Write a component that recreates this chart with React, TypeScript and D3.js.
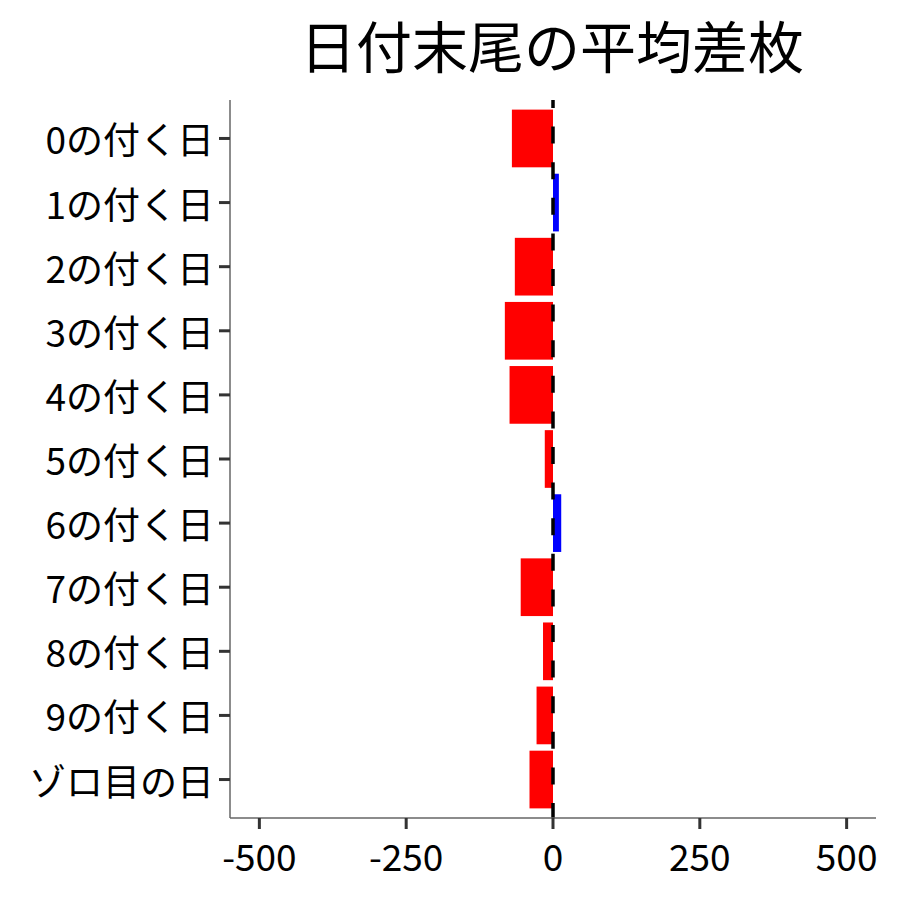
import React from 'react';
import * as d3 from 'd3';

const categories = [
  '0の付く日',
  '1の付く日',
  '2の付く日',
  '3の付く日',
  '4の付く日',
  '5の付く日',
  '6の付く日',
  '7の付く日',
  '8の付く日',
  '9の付く日',
  'ゾロ目の日',
];
const values = [-70, 10, -65, -82, -74, -14, 14, -55, -17, -28, -40];
const xTicks = [-500, -250, 0, 250, 500];
const title = '日付末尾の平均差枚';

const FONT = '"Noto Sans CJK JP", "Noto Sans", sans-serif';

export default function App() {
  const width = 900;
  const height = 900;
  const panel = { left: 230, right: 876, top: 100, bottom: 818 };

  const x = d3.scaleLinear().domain([-550, 550]).range([panel.left, panel.right]);
  const y = d3
    .scaleBand<string>()
    .domain(categories)
    .range([panel.top, panel.bottom])
    .paddingInner(0.1)
    .paddingOuter(0.15);

  const bars = categories.map((c, i) => ({ cat: c, value: values[i] }));

  return (
    <svg
      width={width}
      height={height}
      style={{ position: 'absolute', left: 0, top: 0, background: '#fff' }}
      fontFamily={FONT}
    >
      <rect width={width} height={height} fill="#fff" />

      {/* bars */}
      <g>
        {bars.map((d) => (
          <rect
            key={d.cat}
            x={Math.min(x(0), x(d.value))}
            y={y(d.cat)!}
            width={Math.abs(x(d.value) - x(0))}
            height={y.bandwidth()}
            fill={d.value < 0 ? '#FF0000' : '#0000FF'}
          />
        ))}
      </g>

      {/* zero reference line */}
      <line
        x1={x(0)}
        x2={x(0)}
        y1={panel.top}
        y2={panel.bottom}
        stroke="#000"
        strokeWidth={3.5}
        strokeDasharray="17 18.6"
        strokeDashoffset={9}
      />

      {/* axes */}
      <line x1={panel.left} x2={panel.left} y1={panel.top} y2={panel.bottom} stroke="#666" strokeWidth={1.5} />
      <line x1={panel.left} x2={panel.right} y1={panel.bottom} y2={panel.bottom} stroke="#666" strokeWidth={1.5} />

      {categories.map((c) => {
        const cy = y(c)! + y.bandwidth() / 2;
        return (
          <g key={c}>
            <line x1={panel.left - 11} x2={panel.left} y1={cy} y2={cy} stroke="#333" strokeWidth={3} />
            <text x={panel.left - 16} y={cy} textAnchor="end" dominantBaseline="central" fontSize={37} fill="#000">
              {c}
            </text>
          </g>
        );
      })}

      {xTicks.map((t) => (
        <g key={t}>
          <line x1={x(t)} x2={x(t)} y1={panel.bottom} y2={panel.bottom + 11} stroke="#333" strokeWidth={3} />
          <text x={x(t)} y={panel.bottom + 37} textAnchor="middle" dominantBaseline="central" fontSize={37} fill="#000">
            {t}
          </text>
        </g>
      ))}

      <text
        x={(panel.left + panel.right) / 2 - 1}
        y={43}
        textAnchor="middle"
        dominantBaseline="central"
        fontSize={56}
        fill="#000"
      >
        {title}
      </text>
    </svg>
  );
}
